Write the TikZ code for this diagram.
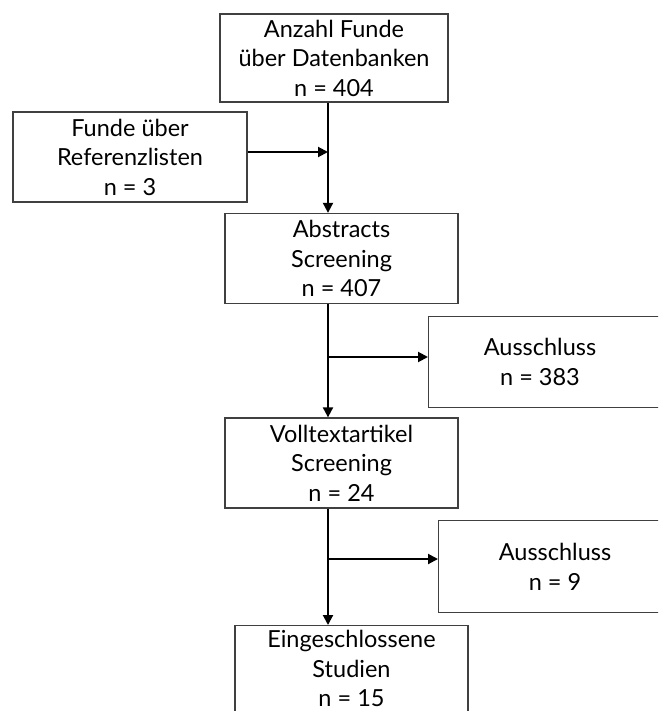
\documentclass[tikz,border=0pt]{standalone}
\usepackage{fontspec}
\setmainfont{Lato}
\usetikzlibrary{arrows.meta}

\begin{document}
\begin{tikzpicture}[
            x=1pt, y=-1pt,
            box/.style={draw=black!75, line width=1.3pt, rectangle, minimum width=233pt,
                minimum height=90pt, inner sep=0pt, align=center,
                font=\fontsize{23.5}{29.5}\selectfont},
            lbl/.style={align=center, inner sep=0pt, font=\fontsize{23.5}{29.5}\selectfont},
            flow/.style={line width=2pt, -{Triangle[length=10pt, width=10pt]}}
        ]
            \useasboundingbox (0,0) rectangle (658,711);
            \clip (0,0) rectangle (658,711);

            \node[box, minimum width=228pt, minimum height=88pt] (fund) at (334,58)
                {Anzahl Funde\\über Datenbanken\\n = 404};
            \node[box, minimum width=234pt] (ref) at (130,157)
                {Funde über\\Referenzlisten\\n = 3};
            \node[box] (abs) at (341.5,258.5) {Abstracts\\Screening\\n = 407};
            \node[box, minimum width=262pt, minimum height=91pt, anchor=north west] (aus1) at (428,316) {};
            \node[lbl] (aus1t) at (540,362) {Ausschluss\\n = 383};
            \node[box] (voll) at (341.5,463) {Volltextartikel\\Screening\\n = 24};
            \node[box, minimum width=262pt, minimum height=92pt, anchor=north west] (aus2) at (438,520) {};
            \node[lbl] (aus2t) at (555,567) {Ausschluss\\n = 9};
            \node[box, minimum height=86pt, anchor=north] (ein) at (351.5,625)
                {Eingeschlossene\\Studien\\n = 15};

            \coordinate (ln) at (328,0);
            \coordinate (j1) at (328,152);
            \coordinate (j2) at (328,357);
            \coordinate (j3) at (328,559);

            \draw[flow] (fund.south -| ln) -- (abs.north -| ln);
            \draw[flow] (ref.east |- j1) -- (j1);
            \draw[flow] (abs.south -| ln) -- (voll.north -| ln);
            \draw[flow] (j2) -- (j2 -| aus1.west);
            \draw[flow] (voll.south -| ln) -- (ein.north -| ln);
            \draw[flow] (j3) -- (j3 -| aus2.west);
        \end{tikzpicture}
\end{document}
